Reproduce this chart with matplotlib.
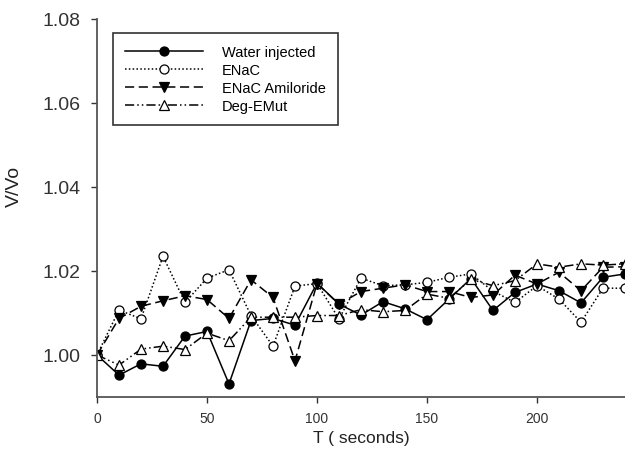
#!/usr/bin/env python3

import numpy as np
from matplotlib import pyplot as plt

# time points (s)
time = list(range(0, 250, 10))

# V/Vo
water = [1.0000, 0.9952, 0.9979, 0.9973, 1.0045, 1.0056, 0.9931, 1.0082, 1.0087, 1.0071,
         1.0171, 1.0121, 1.0095, 1.0127, 1.0110, 1.0084, 1.0133, 1.0182, 1.0106, 1.0149,
         1.0169, 1.0153, 1.0124, 1.0185, 1.0193]
enac = [1.0000, 1.0107, 1.0086, 1.0235, 1.0125, 1.0183, 1.0203, 1.0094, 1.0021, 1.0164,
        1.0170, 1.0086, 1.0183, 1.0165, 1.0167, 1.0173, 1.0185, 1.0193, 1.0152, 1.0125,
        1.0165, 1.0133, 1.0078, 1.0159, 1.0159]
enac_amiloride = [1.0000, 1.0087, 1.0116, 1.0129, 1.0141, 1.0132, 1.0087, 1.0179, 1.0137, 0.9986,
                  1.0170, 1.0121, 1.0151, 1.0159, 1.0167, 1.0151, 1.0151, 1.0137, 1.0143, 1.0190,
                  1.0169, 1.0197, 1.0153, 1.0209, 1.0210]
deg_emut = [1.0000, 0.9976, 1.0014, 1.0021, 1.0013, 1.0052, 1.0034, 1.0090, 1.0090, 1.0090,
            1.0094, 1.0094, 1.0108, 1.0103, 1.0106, 1.0145, 1.0135, 1.0180, 1.0165, 1.0177,
            1.0217, 1.0209, 1.0217, 1.0214, 1.0217]

labels = ['Water injected', 'ENaC', 'ENaC Amiloride', 'Deg-EMut']
xticks = [0, 50, 100, 150, 200]
yticks = [1.00, 1.02, 1.04, 1.06, 1.08]

plt.rcParams['font.family'] = ['Liberation Sans', 'DejaVu Sans']

fig = plt.figure(figsize=(6.25, 4.52), dpi=100)
ax = fig.add_axes([0.1552, 0.1195, 0.8448, 0.8363])

common = dict(color='black', lw=1.1, ms=6.5, mew=0.9)
ax.plot(time, water, ls='-', marker='o', mfc='black', label=labels[0], **common)
ax.plot(time, enac, ls=(0, (1, 1.5)), marker='o', mfc='white', label=labels[1], **common)
ax.plot(time, enac_amiloride, ls=(0, (6, 3)), marker='v', mfc='black', label=labels[2], **common)
ax.plot(time, deg_emut, ls=(0, (6, 2, 1, 2, 1, 2)), marker='^', mfc='white', label=labels[3], **common)

ax.set_xlim(0, 240)
ax.set_ylim(0.99, 1.08)
ax.set_xticks(xticks)
ax.set_yticks(yticks)
ax.set_yticklabels([f'{v:.2f}' for v in yticks])
ax.tick_params(axis='x', labelsize=10, direction='out', length=4, width=1, pad=6, colors='#333333')
ax.tick_params(axis='y', labelsize=14, direction='out', length=4, width=1, pad=8, colors='#333333')

for side in ['top', 'right']:
    ax.spines[side].set_visible(False)
for side in ['left', 'bottom']:
    ax.spines[side].set_color('#555555')
    ax.spines[side].set_linewidth(1.3)

ax.set_xlabel('T ( seconds)', fontsize=12.5, color='#222222', labelpad=4)
ax.set_ylabel('V/Vo', fontsize=14, color='#222222')
ax.yaxis.set_label_coords(-0.14, 0.56)

leg = ax.legend(loc='upper left', bbox_to_anchor=(0.03, 0.963), fontsize=10.5,
                handlelength=5.4, handletextpad=1.3, labelspacing=0.28,
                borderpad=0.8, fancybox=False, framealpha=1.0, borderaxespad=0)
leg.get_frame().set_edgecolor('#333333')
leg.get_frame().set_linewidth(1.2)

fig.savefig('out.png', dpi=100)
